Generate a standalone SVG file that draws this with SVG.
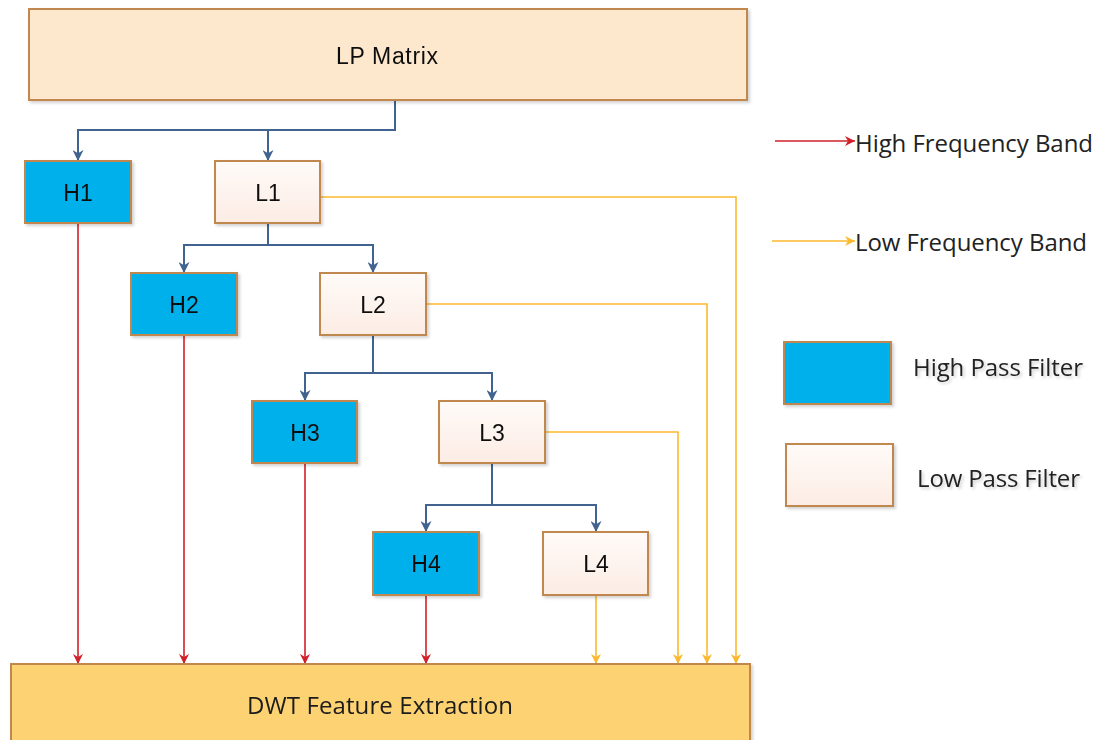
<svg xmlns="http://www.w3.org/2000/svg" width="1099" height="740" viewBox="0 0 1099 740">
  <style>
    .lp { fill: url(#lowGrad); stroke: #c0874f; stroke-width: 2; }
    .hp { fill: #00b0eb; stroke: #c0874f; stroke-width: 2; }
    .top { fill: #fde7cd; stroke: #c0874f; stroke-width: 2; }
    .dwt { fill: #fdd272; stroke: #c0874f; stroke-width: 2; }
    .lbl { font-family: "Liberation Sans", Arial, sans-serif; font-size: 23px; fill: #111; text-anchor: middle; dominant-baseline: central; }
    .leg { font-family: "Open Sans", "Noto Sans", sans-serif; font-size: 24px; fill: #222; dominant-baseline: central; }
    .tree { fill: none; stroke: #41638f; stroke-width: 2; }
    .hi { fill: none; stroke: #d0202a; stroke-width: 1.6; marker-end: url(#arRed); }
    .lo { fill: none; stroke: #fdb92e; stroke-width: 1.6; marker-end: url(#arOrange); }
  </style>
  <defs>
    <linearGradient id="lowGrad" x1="0" y1="0" x2="0" y2="1">
      <stop offset="0" stop-color="#fffbf8"/>
      <stop offset="1" stop-color="#fcece4"/>
    </linearGradient>
    <filter id="shadow" x="-10%" y="-10%" width="130%" height="140%">
      <feDropShadow dx="2" dy="2" stdDeviation="1.5" flood-color="#000" flood-opacity="0.18"/>
    </filter>
    <marker id="arBlue" viewBox="0 0 10 10" refX="10" refY="5" markerWidth="11" markerHeight="11" markerUnits="userSpaceOnUse" orient="auto">
      <path d="M0,0 L10,5 L0,10 L3,5 Z" fill="#41638f"/>
    </marker>
    <marker id="arRed" viewBox="0 0 10 10" refX="10" refY="5" markerWidth="11" markerHeight="10" markerUnits="userSpaceOnUse" orient="auto">
      <path d="M0,0 L10,5 L0,10 L3,5 Z" fill="#d0202a"/>
    </marker>
    <marker id="arOrange" viewBox="0 0 10 10" refX="10" refY="5" markerWidth="11" markerHeight="10" markerUnits="userSpaceOnUse" orient="auto">
      <path d="M0,0 L10,5 L0,10 L3,5 Z" fill="#fdb92e"/>
    </marker>
  </defs>

  <rect width="1099" height="740" fill="#ffffff"/>

  <!-- connectors -->
  <g id="connectors">
    <!-- decomposition tree -->
    <path class="tree" d="M395,101 V130 H78 V161" marker-end="url(#arBlue)"/>
    <path class="tree" d="M268,130 V161" marker-end="url(#arBlue)"/>
    <path class="tree" d="M268,224 V245 H184 V273" marker-end="url(#arBlue)"/>
    <path class="tree" d="M268,245 H373 V273" marker-end="url(#arBlue)"/>
    <path class="tree" d="M373,336 V373 H305 V401" marker-end="url(#arBlue)"/>
    <path class="tree" d="M373,373 H492 V401" marker-end="url(#arBlue)"/>
    <path class="tree" d="M492,464 V505 H426 V532" marker-end="url(#arBlue)"/>
    <path class="tree" d="M492,505 H596 V532" marker-end="url(#arBlue)"/>
    <!-- high frequency bands -->
    <path class="hi" d="M78,224 V664"/>
    <path class="hi" d="M184,336 V664"/>
    <path class="hi" d="M305,464 V664"/>
    <path class="hi" d="M426,596 V664"/>
    <!-- low frequency bands -->
    <path class="lo" d="M321,197 H736 V664"/>
    <path class="lo" d="M427,304 H707 V664"/>
    <path class="lo" d="M546,432 H678 V664"/>
    <path class="lo" d="M596,596 V664"/>
  </g>

  <g id="lp-matrix" filter="url(#shadow)">
    <rect class="top" x="29" y="9" width="718" height="91"/>
    <text class="lbl" x="387" y="56" textLength="102">LP Matrix</text>
  </g>

  <g id="h1" filter="url(#shadow)">
    <rect class="hp" x="25" y="161" width="106" height="62"/>
    <text class="lbl" x="78" y="193">H1</text>
  </g>
  <g id="l1" filter="url(#shadow)">
    <rect class="lp" x="215" y="161" width="105" height="62"/>
    <text class="lbl" x="268" y="193">L1</text>
  </g>
  <g id="h2" filter="url(#shadow)">
    <rect class="hp" x="131" y="273" width="106" height="62"/>
    <text class="lbl" x="184" y="305">H2</text>
  </g>
  <g id="l2" filter="url(#shadow)">
    <rect class="lp" x="320" y="273" width="106" height="62"/>
    <text class="lbl" x="373" y="305">L2</text>
  </g>
  <g id="h3" filter="url(#shadow)">
    <rect class="hp" x="252" y="401" width="105" height="62"/>
    <text class="lbl" x="305" y="433">H3</text>
  </g>
  <g id="l3" filter="url(#shadow)">
    <rect class="lp" x="439" y="401" width="106" height="62"/>
    <text class="lbl" x="492" y="433">L3</text>
  </g>
  <g id="h4" filter="url(#shadow)">
    <rect class="hp" x="373" y="532" width="106" height="63"/>
    <text class="lbl" x="426" y="564">H4</text>
  </g>
  <g id="l4" filter="url(#shadow)">
    <rect class="lp" x="543" y="532" width="105" height="63"/>
    <text class="lbl" x="596" y="564">L4</text>
  </g>

  <g id="dwt" filter="url(#shadow)">
    <rect class="dwt" x="11" y="664" width="739" height="90"/>
    <text class="leg" x="247" y="704" textLength="266" style="fill:#1a1a1a">DWT Feature Extraction</text>
  </g>

  <!-- legend -->
  <g id="legend-high-band">
    <line class="hi" x1="775" y1="141" x2="855" y2="141"/>
    <text class="leg" x="855" y="142" textLength="238">High Frequency Band</text>
  </g>
  <g id="legend-low-band">
    <line class="lo" x1="772" y1="241" x2="855" y2="241"/>
    <text class="leg" x="855" y="241" textLength="232">Low Frequency Band</text>
  </g>
  <g id="legend-high-pass" filter="url(#shadow)">
    <rect class="hp" x="784" y="342" width="107" height="62"/>
    <text class="leg" x="913" y="366" textLength="170">High Pass Filter</text>
  </g>
  <g id="legend-low-pass" filter="url(#shadow)">
    <rect class="lp" x="786" y="444" width="107" height="62"/>
    <text class="leg" x="917" y="477" textLength="163">Low Pass Filter</text>
  </g>
</svg>
